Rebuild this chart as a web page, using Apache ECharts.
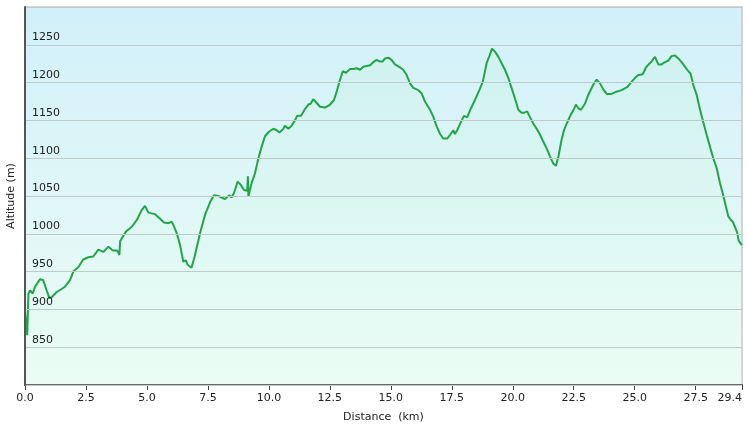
<!DOCTYPE html>
<html><head><meta charset="utf-8">
<script src="https://cdn.jsdelivr.net/npm/echarts@6/dist/echarts.min.js"></script>
<style>html,body{margin:0;padding:0;background:#fff}#c{width:747px;height:428px}</style>
</head><body><div id="c"></div>
<script>
const distanceKm = [0.00,0.09,0.14,0.21,0.32,0.41,0.62,0.74,0.89,1.00,1.09,1.30,1.50,1.64,1.85,1.98,2.19,2.39,2.60,2.80,3.01,3.21,3.42,3.60,3.78,3.87,3.90,3.96,4.14,4.37,4.58,4.78,4.92,5.06,5.33,5.54,5.70,5.88,6.01,6.08,6.22,6.36,6.49,6.59,6.67,6.83,6.97,7.18,7.38,7.59,7.75,7.93,8.20,8.38,8.47,8.57,8.72,8.84,8.98,9.11,9.14,9.16,9.29,9.43,9.57,9.70,9.84,10.00,10.18,10.32,10.43,10.57,10.66,10.80,10.93,11.07,11.16,11.32,11.48,11.62,11.71,11.82,11.96,12.10,12.30,12.51,12.67,12.78,12.89,13.03,13.16,13.33,13.46,13.60,13.74,13.87,14.15,14.28,14.42,14.53,14.67,14.76,14.90,15.03,15.17,15.38,15.51,15.65,15.79,15.92,16.13,16.26,16.40,16.61,16.74,16.88,17.02,17.15,17.31,17.43,17.56,17.63,17.72,17.86,18.00,18.13,18.27,18.45,18.63,18.77,18.93,19.04,19.15,19.27,19.41,19.54,19.68,19.82,19.95,20.09,20.23,20.36,20.46,20.59,20.71,20.84,20.98,21.12,21.25,21.39,21.53,21.66,21.77,21.87,22.00,22.10,22.23,22.37,22.51,22.59,22.69,22.80,22.96,23.10,23.28,23.44,23.58,23.71,23.85,24.05,24.26,24.46,24.69,24.87,25.01,25.15,25.33,25.46,25.60,25.69,25.83,25.97,26.10,26.24,26.38,26.51,26.65,26.79,26.92,27.06,27.20,27.29,27.40,27.54,27.68,27.81,27.95,28.09,28.22,28.36,28.50,28.63,28.74,28.84,28.93,29.02,29.11,29.21,29.26,29.35,29.40];
const altitudeM = [897,866,921,925,921,930,940,939,925,915,916,923,927,930,939,950,956,966,969,970,979,976,983,978,978,972,990,992,1003,1009,1018,1031,1037,1028,1026,1020,1015,1014,1016,1012,1001,985,963,965,959,955,972,1001,1025,1042,1051,1050,1046,1051,1048,1054,1069,1065,1058,1057,1076,1049,1067,1080,1100,1115,1129,1135,1139,1137,1134,1138,1143,1139,1143,1150,1156,1156,1165,1171,1172,1178,1173,1168,1167,1171,1177,1188,1201,1215,1213,1218,1218,1219,1217,1221,1223,1227,1230,1228,1228,1232,1233,1230,1224,1220,1217,1210,1199,1193,1190,1186,1175,1164,1155,1142,1132,1126,1126,1131,1137,1132,1137,1147,1156,1154,1165,1177,1190,1201,1226,1235,1245,1241,1234,1226,1217,1206,1193,1179,1164,1160,1160,1162,1154,1146,1139,1131,1122,1113,1102,1093,1090,1102,1124,1137,1147,1157,1165,1171,1166,1164,1172,1184,1196,1204,1199,1191,1185,1185,1188,1190,1194,1201,1206,1210,1211,1220,1225,1228,1234,1224,1224,1227,1229,1235,1236,1232,1227,1221,1215,1212,1197,1184,1164,1148,1131,1115,1100,1087,1067,1051,1036,1023,1019,1016,1009,1001,991,987,985];
const xMin = 0, xMax = 29.4, xStep = 2.5;
const yMin = 800, yMax = 1300, yStep = 50;
const yLabelMin = 850, yLabelMax = 1250;

const chart = echarts.init(document.getElementById('c'));
const font = 'Verdana, "DejaVu Sans", sans-serif';
chart.setOption({
  animation: false,
  grid: {
    left: 25, right: 5, top: 7, bottom: 43,
    outerBoundsMode: 'none', containLabel: false,
    show: true,
    borderColor: '#c4c6c8', borderWidth: 1.5,
    backgroundColor: new echarts.graphic.LinearGradient(0, 0, 0, 1, [
      {offset: 0, color: '#d2f0fa'},
      {offset: 1, color: '#ecfdf5'}
    ])
  },
  xAxis: {
    type: 'value', min: xMin, max: xMax, interval: xStep,
    name: 'Distance  (km)', nameLocation: 'middle', nameGap: 27,
    nameTextStyle: {fontFamily: font, fontSize: 11, color: '#222'},
    axisLine: {show: true, lineStyle: {color: '#444', width: 2}},
    axisTick: {show: true, length: 5, lineStyle: {color: '#444', width: 1}},
    axisLabel: {fontFamily: font, fontSize: 11, color: '#222', margin: 8,
      formatter: v => v.toFixed(1), showMaxLabel: true, alignMaxLabel: 'right'},
    splitLine: {show: false}
  },
  yAxis: {
    type: 'value', min: yMin, max: yMax, interval: yStep, z: 5,
    name: 'Altitude (m)', nameLocation: 'middle', nameGap: 8, nameRotate: 90,
    nameTextStyle: {fontFamily: font, fontSize: 11, color: '#222'},
    axisLine: {show: true, lineStyle: {color: '#555', width: 2}},
    axisTick: {show: false},
    axisLabel: {inside: true, fontFamily: font, fontSize: 11, color: '#222',
      align: 'left', verticalAlign: 'bottom', margin: 7, padding: [0,0,2,0],
      formatter: v => (v >= yLabelMin && v <= yLabelMax) ? String(v) : ''},
    splitLine: {show: true, lineStyle: {color: '#bfcaca', width: 1.2}}
  },
  series: [{
    type: 'line',
    data: distanceKm.map((d, i) => [d, altitudeM[i]]),
    showSymbol: false, symbol: 'none',
    lineStyle: {color: '#22a548', width: 2},
    areaStyle: {color: new echarts.graphic.LinearGradient(0, 0, 0, 1, [
      {offset: 0, color: 'rgba(195,242,220,0.45)'},
      {offset: 1, color: 'rgba(232,252,242,0.3)'}
    ]), origin: 'start'},
    z: 3
  }]
});
</script></body></html>
